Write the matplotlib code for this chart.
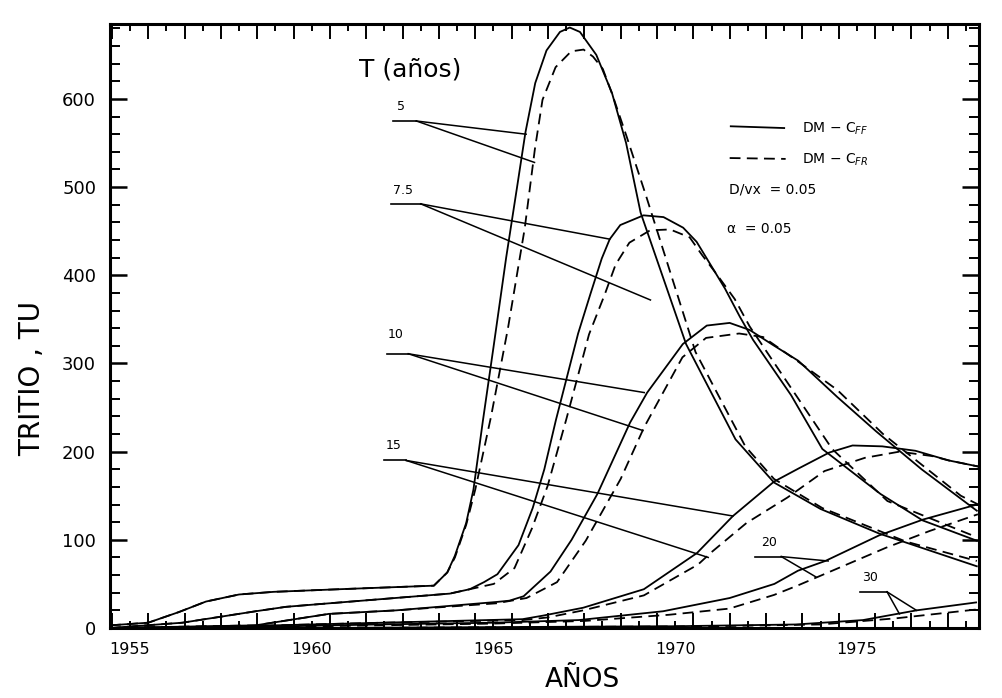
import matplotlib.pyplot as plt
from matplotlib.ticker import MultipleLocator, FuncFormatter

# =========================
# DATA
# =========================

# T = 5 years
yr_5_ff = [1954.45, 1955.5, 1956.34, 1957.09, 1958.0, 1958.95, 1960.77, 1963.36, 1963.73, 1963.94,
           1964.25, 1964.45, 1964.71, 1965.0, 1965.35, 1965.65, 1965.88, 1966.15, 1966.46, 1966.83,
           1967.1, 1967.38, 1967.83, 1968.26, 1968.65, 1969.05, 1970.3, 1971.66, 1972.72, 1974.0,
           1975.62, 1978.3]
tu_5_ff = [3, 6, 18, 30, 38, 41, 44, 48, 63, 82,
           119, 157, 235, 318, 420, 500, 562, 618, 655, 676,
           681, 676, 650, 607, 550, 471, 322, 214, 165, 135,
           107, 70]
yr_5_fr = [1954.45, 1955.5, 1956.34, 1957.09, 1958.0, 1958.95, 1960.77, 1963.36, 1963.73, 1963.94,
           1964.25, 1964.5, 1964.93, 1965.4, 1965.86, 1966.14, 1966.35, 1966.71, 1967.14, 1967.48,
           1967.74, 1968.01, 1968.28, 1968.66, 1969.2, 1970.56, 1971.93, 1972.72, 1974.05, 1976.35, 1978.3]
tu_5_fr = [3, 6, 18, 30, 38, 41, 44, 48, 63, 80,
           117, 157, 239, 340, 453, 543, 599, 636, 654, 656,
           648, 634, 604, 558, 490, 313, 206, 169, 136, 98, 76]

# T = 7.5 years
yr_75_ff = [1954.45, 1956.44, 1958.46, 1959.29, 1960.48, 1963.8, 1964.35, 1964.74, 1965.11, 1965.69,
            1966.08, 1966.4, 1966.72, 1967.33, 1967.67, 1967.98, 1968.2, 1968.49, 1969.13, 1969.68,
            1970.22, 1970.59, 1970.93, 1971.37, 1971.78, 1972.14, 1973.19, 1974.05, 1975.65, 1976.81, 1978.3]
tu_75_ff = [0, 6, 19, 24, 28, 39, 44, 52, 61, 94,
            136, 180, 236, 334, 379, 419, 441, 457, 468, 466,
            454, 438, 415, 385, 353, 327, 264, 203, 152, 122, 99]
yr_75_fr = [1954.45, 1956.44, 1958.46, 1959.29, 1960.48, 1963.8, 1964.35, 1965.01, 1965.58, 1966.06,
            1966.49, 1967.0, 1967.63, 1968.06, 1968.36, 1968.74, 1969.31, 1969.86, 1970.4, 1970.74,
            1971.11, 1971.64, 1972.05, 1974.32, 1975.84, 1978.3]
tu_75_fr = [0, 6, 19, 24, 28, 39, 44, 50, 68, 113,
            161, 236, 333, 378, 412, 437, 451, 452, 443, 423,
            403, 373, 342, 203, 144, 103]

# T = 10 years
yr_10_ff = [1954.45, 1958.45, 1960.47, 1962.32, 1965.08, 1965.44, 1965.83, 1966.57, 1967.15, 1967.86,
            1968.76, 1969.23, 1970.21, 1970.87, 1971.5, 1972.05, 1972.69, 1973.39, 1974.46, 1975.53,
            1976.78, 1978.3]
tu_10_ff = [0, 3, 16, 20, 29.5, 31, 36, 64, 100, 152,
            233, 267, 322, 343, 346, 338, 321, 303, 262, 223,
            180, 133]
yr_10_fr = [1954.45, 1958.45, 1960.47, 1962.32, 1965.08, 1965.91, 1966.75, 1967.54, 1968.5, 1969.15,
            1970.2, 1970.85, 1971.76, 1972.42, 1973.39, 1974.46, 1975.72, 1977.86, 1978.34]
tu_10_fr = [0, 3, 16, 20, 28, 34, 52, 99, 169, 228,
            307, 329, 334, 330, 302, 270, 220, 150, 140]

# T = 15 years
yr_15_ff = [1954.45, 1958.0, 1961.95, 1965.8, 1966.36, 1967.47, 1969.14, 1970.6, 1971.59, 1972.72,
            1973.4, 1974.24, 1974.88, 1975.7, 1976.61, 1977.53, 1978.36]
tu_15_ff = [0, 2, 6, 10, 14, 23, 44, 85, 127, 166,
            181, 199, 207, 206, 201, 190, 183]
yr_15_fr = [1954.45, 1958.0, 1961.95, 1965.8, 1966.5, 1967.47, 1969.14, 1970.63, 1971.0, 1971.96,
            1973.09, 1974.11, 1975.22, 1976.17, 1977.07, 1977.53, 1978.36]
tu_15_fr = [0, 2, 6, 9, 12, 20, 37, 72, 86, 119,
            148, 178, 193, 200, 195, 190, 183]

# T = 20 years
yr_20_ff = [1957.0, 1961.8, 1965.0, 1967.35, 1969.67, 1971.5, 1972.73, 1973.38, 1974.13, 1975.61,
            1976.82, 1978.04, 1978.3]
tu_20_ff = [0, 4, 6, 9, 19, 34, 50, 65, 76, 105,
            123, 137, 140]
yr_20_fr = [1957.0, 1961.8, 1965.0, 1967.5, 1969.83, 1971.49, 1972.72, 1973.36, 1975.8, 1977.0, 1978.33]
tu_20_fr = [0, 3, 5, 8, 15, 22, 37.5, 48, 91, 110, 129]

# T = 30 years
yr_30_ff = [1960.0, 1965.0, 1970.0, 1973.32, 1975.17, 1976.64, 1978.28]
tu_30_ff = [0, 1, 2, 4, 9, 20, 29]
yr_30_fr = [1961.0, 1966.0, 1971.0, 1974.0, 1976.08, 1978.29]
tu_30_fr = [0, 1, 2, 4, 11, 21]

# curve labels: text, label pos, underline (x0, x1, y), leader ends (solid, dashed)
curve_labels = [
    ("5",   (1962.46, 584), (1962.25, 1962.88, 575), (1965.9, 560), (1966.13, 528)),
    ("7.5", (1962.5, 489),  (1962.17, 1963.0, 481),  (1968.2, 441), (1969.32, 372)),
    ("10",  (1962.31, 326), (1962.08, 1962.66, 311), (1969.15, 267), (1969.11, 224)),
    ("15",  (1962.25, 200), (1962.0, 1962.6, 190),   (1971.59, 127), (1970.91, 80)),
    ("20",  (1972.57, 90),  (1972.2, 1972.92, 81),   (1974.21, 76), (1973.87, 58)),
    ("30",  (1975.37, 50),  (1975.09, 1975.83, 41),  (1976.64, 20), (1976.17, 16)),
]

solid_curves = [(yr_5_ff, tu_5_ff), (yr_75_ff, tu_75_ff), (yr_10_ff, tu_10_ff),
                (yr_15_ff, tu_15_ff), (yr_20_ff, tu_20_ff), (yr_30_ff, tu_30_ff)]
dashed_curves = [(yr_5_fr, tu_5_fr), (yr_75_fr, tu_75_fr), (yr_10_fr, tu_10_fr),
                 (yr_15_fr, tu_15_fr), (yr_20_fr, tu_20_fr), (yr_30_fr, tu_30_fr)]

# =========================
# PLOT
# =========================
plt.rcParams['font.family'] = ['DejaVu Sans']

fig = plt.figure(figsize=(10.03, 6.98), dpi=100)
ax = fig.add_axes([110 / 1003, 1 - 628 / 698, 869 / 1003, 604 / 698])

dash = (0, (6, 3.5))
for yr, tu in dashed_curves:
    ax.plot(yr, tu, color='black', linewidth=1.3, linestyle=dash)
for yr, tu in solid_curves:
    ax.plot(yr, tu, color='black', linewidth=1.3)

# labels with underline and leader lines
for txt, (lx, ly), (ux0, ux1, uy), end_solid, end_dashed in curve_labels:
    ax.text(lx, ly, txt, fontsize=9, ha='center', va='bottom')
    ax.plot([ux0, ux1], [uy, uy], color='black', linewidth=1.2)
    ax.plot([ux1, end_solid[0]], [uy, end_solid[1]], color='black', linewidth=1.1)
    ax.plot([ux1, end_dashed[0]], [uy, end_dashed[1]], color='black', linewidth=1.1)

ax.text(1961.3, 633, "T (años)", fontsize=18, ha='left', va='center')

# legend block
ax.plot([1971.53, 1973.0], [569, 567], color='black', linewidth=1.3)
ax.text(1973.48, 566, r"DM $-$ C$_{FF}$", fontsize=10, ha='left', va='center')
ax.plot([1971.5, 1973.04], [533, 532], color='black', linewidth=1.3, linestyle=dash)
ax.text(1973.5, 531, r"DM $-$ C$_{FR}$", fontsize=10, ha='left', va='center')
ax.text(1971.47, 497, "D/vx  = 0.05", fontsize=10, ha='left', va='center')
ax.text(1971.43, 452, "α  = 0.05", fontsize=10, ha='left', va='center')

ax.set_xlim(1954.45, 1978.36)
ax.set_ylim(0, 685)

ax.xaxis.set_major_locator(MultipleLocator(1))
ax.xaxis.set_minor_locator(MultipleLocator(1, offset=0.5))
ax.xaxis.set_major_formatter(FuncFormatter(lambda v, p: f"{int(round(v))}" if round(v) % 5 == 0 else ""))
ax.yaxis.set_major_locator(MultipleLocator(100))
ax.yaxis.set_minor_locator(MultipleLocator(20))
ax.yaxis.set_major_formatter(FuncFormatter(lambda v, p: f"{int(v)}" if v <= 600 else ""))

ax.tick_params(axis='x', which='major', direction='in', length=5, width=1.4,
               top=True, bottom=True, labelsize=11.5, pad=10)
ax.tick_params(axis='x', which='minor', direction='in', length=11, width=1.4, top=True, bottom=True)
ax.tick_params(axis='y', which='major', direction='in', length=12, width=1.8,
               left=True, right=True, labelsize=13, pad=10)
ax.tick_params(axis='y', which='minor', direction='in', length=7, width=1.4, left=True, right=True)

for s in ax.spines.values():
    s.set_linewidth(2.2)

fig.text(32 / 1003, 1 - 378 / 698, "TRITIO , TU", rotation=90, fontsize=20, ha='center', va='center')
fig.text(582 / 1003, 1 - 680 / 698, "AÑOS", fontsize=19, ha='center', va='center')

fig.savefig("out.png", dpi=100)
